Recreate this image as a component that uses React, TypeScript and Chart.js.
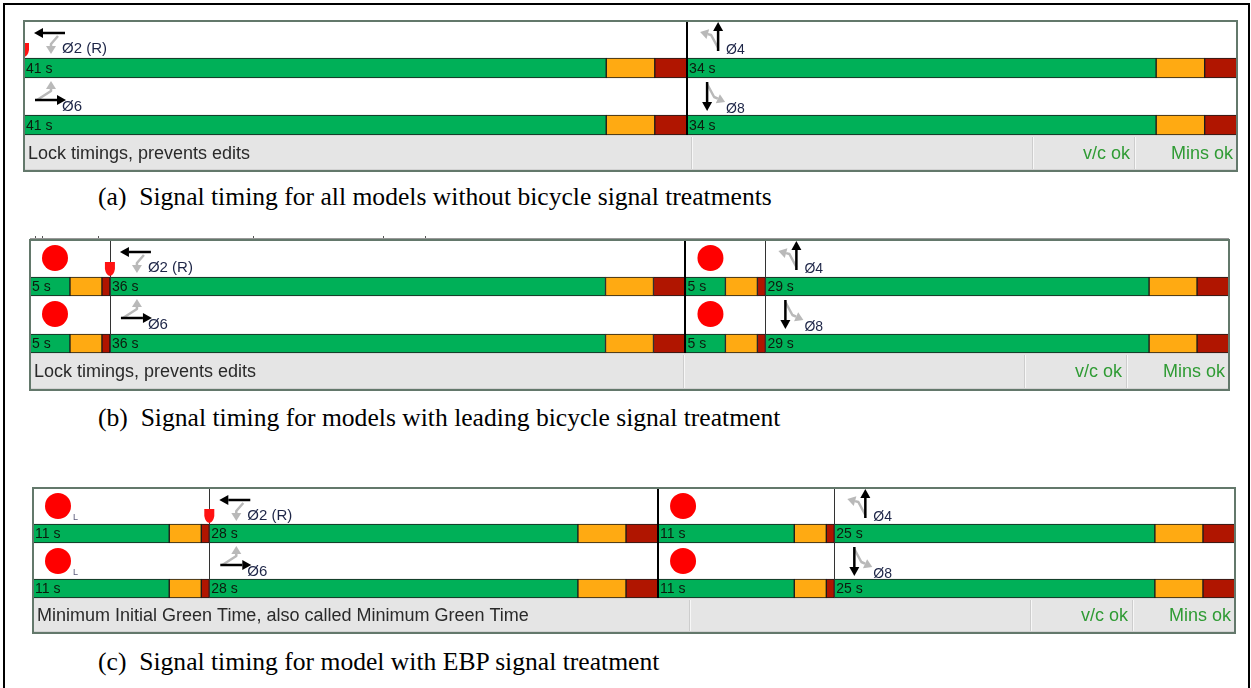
import React, { useEffect, useRef } from "react";
import { Chart, registerables } from "chart.js";

Chart.register(...registerables);

// ---------------- DATA ----------------
const CYCLE_LENGTH = 75; // seconds
const RING_ROWS = ["ring1", "ring2"];
const RING1_PHASES = ["Ø2 (R)", "Ø4"];
const RING2_PHASES = ["Ø6", "Ø8"];

// (a) without bicycle signal treatments
const A_SPLITS = [41, 34];
const A_GREEN = [36, 29];
const A_YELLOW = [3, 3];
const A_ALL_RED = [2, 2];
const A_IS_BIKE = [false, false];

// (b) leading bicycle signal treatment
const B_SPLITS = [5, 36, 5, 29];
const B_GREEN = [2.5, 31, 2.5, 24];
const B_YELLOW = [2, 3, 2, 3];
const B_ALL_RED = [0.5, 2, 0.5, 2];
const B_IS_BIKE = [true, false, true, false];

// (c) EBP signal treatment
const C_SPLITS = [11, 28, 11, 25];
const C_GREEN = [8.5, 23, 8.5, 20];
const C_YELLOW = [2, 3, 2, 3];
const C_ALL_RED = [0.5, 2, 0.5, 2];
const C_IS_BIKE = [true, false, true, false];

const STATUS_A = "Lock timings, prevents edits";
const STATUS_B = "Lock timings, prevents edits";
const STATUS_C = "Minimum Initial Green Time, also called Minimum Green Time";
const STATUS_VC = "v/c ok";
const STATUS_MINS = "Mins ok";

const CAPTION_A = "(a)";
const CAPTION_A_TEXT = "Signal timing for all models without bicycle signal treatments";
const CAPTION_B = "(b)";
const CAPTION_B_TEXT = "Signal timing for models with leading bicycle signal treatment";
const CAPTION_C = "(c)";
const CAPTION_C_TEXT = "Signal timing for model with EBP signal treatment";

// ---------------- STYLE / LAYOUT ----------------
const W = 1251;
const H = 688;
const GREEN = "#00b058";
const YELLOW = "#ffaa12";
const RED = "#b01500";
const UI_FONT = '"Liberation Sans", Arial, sans-serif';

type Layout = {
  left: number; right: number; top: number; bar1Top: number; bar2Top: number;
  barH: number; bottom: number; bikeL: boolean; remnants: boolean;
};

const LAYOUT_A: Layout = { left: 24, right: 1237, top: 21, bar1Top: 58, bar2Top: 115, barH: 20, bottom: 171, bikeL: false, remnants: false };
const LAYOUT_B: Layout = { left: 30, right: 1229, top: 240, bar1Top: 277, bar2Top: 334, barH: 19, bottom: 390, bikeL: false, remnants: true };
const LAYOUT_C: Layout = { left: 33, right: 1235, top: 488, bar1Top: 524, bar2Top: 579, barH: 19, bottom: 633, bikeL: true, remnants: false };

type PanelData = {
  splits: number[]; green: number[]; yellow: number[]; allRed: number[]; isBike: boolean[]; status: string;
};

function arrow(ctx: CanvasRenderingContext2D, pts: number[][], color: string, lw: number, headLen: number, headHalf: number) {
  const n = pts.length;
  const [px, py] = pts[n - 2];
  const [tx, ty] = pts[n - 1];
  const ang = Math.atan2(ty - py, tx - px);
  const bx = tx - Math.cos(ang) * headLen;
  const by = ty - Math.sin(ang) * headLen;
  ctx.save();
  ctx.strokeStyle = color;
  ctx.fillStyle = color;
  ctx.lineWidth = lw;
  ctx.lineJoin = "round";
  ctx.beginPath();
  ctx.moveTo(pts[0][0], pts[0][1]);
  for (let i = 1; i < n - 1; i++) ctx.lineTo(pts[i][0], pts[i][1]);
  ctx.lineTo(bx, by);
  ctx.stroke();
  const nx = -Math.sin(ang) * headHalf;
  const ny = Math.cos(ang) * headHalf;
  ctx.beginPath();
  ctx.moveTo(tx, ty);
  ctx.lineTo(bx + nx, by + ny);
  ctx.lineTo(bx - nx, by - ny);
  ctx.closePath();
  ctx.fill();
  ctx.restore();
}

const GRAY_ARROW = "#b9b9b9";

function drawPhaseIcon(ctx: CanvasRenderingContext2D, name: string, ox: number, oy: number) {
  ctx.save();
  ctx.fillStyle = "#1d2547";
  ctx.textBaseline = "middle";
  ctx.textAlign = "left";
  if (name === "Ø2 (R)") {
    arrow(ctx, [[ox + 34, oy + 15], [ox + 27, oy + 23], [ox + 27, oy + 33]], GRAY_ARROW, 2.5, 8, 5);
    arrow(ctx, [[ox + 41, oy + 12], [ox + 10, oy + 12]], "#000", 2.5, 9, 5);
    ctx.font = "15px " + UI_FONT;
    ctx.fillText(name, ox + 38, oy + 28);
  } else if (name === "Ø6") {
    arrow(ctx, [[ox + 13, oy + 22], [ox + 27, oy + 13], [ox + 27, oy + 3]], GRAY_ARROW, 2.5, 8, 5);
    arrow(ctx, [[ox + 11, oy + 22], [ox + 42, oy + 22]], "#000", 2.5, 9, 5);
    ctx.font = "15px " + UI_FONT;
    ctx.fillText(name, ox + 38, oy + 29);
  } else if (name === "Ø4") {
    arrow(ctx, [[ox + 31, oy + 27], [ox + 24, oy + 14], [ox + 13, oy + 11]], GRAY_ARROW, 2.5, 8, 5);
    arrow(ctx, [[ox + 31, oy + 30], [ox + 31, oy + 1]], "#000", 2.5, 9, 5);
    ctx.font = "14px " + UI_FONT;
    ctx.fillText(name, ox + 39, oy + 29);
  } else if (name === "Ø8") {
    arrow(ctx, [[ox + 20, oy + 6], [ox + 27, oy + 19], [ox + 38, oy + 24]], GRAY_ARROW, 2.5, 8, 5);
    arrow(ctx, [[ox + 20, oy + 4], [ox + 20, oy + 33]], "#000", 2.5, 9, 5);
    ctx.font = "14px " + UI_FONT;
    ctx.fillText(name, ox + 39, oy + 31);
  }
  ctx.restore();
}

function phaseStarts(splits: number[]) {
  const s: number[] = [];
  let acc = 0;
  for (const v of splits) { s.push(acc); acc += v; }
  return s;
}

function buildDatasets(d: PanelData, barH: number) {
  const starts = phaseStarts(d.splits);
  const g: any[] = [], y: any[] = [], r: any[] = [];
  RING_ROWS.forEach((row) => {
    d.splits.forEach((split, i) => {
      const s = starts[i];
      g.push({ x: [s, s + d.green[i]], y: row });
      y.push({ x: [s + d.green[i], s + d.green[i] + d.yellow[i]], y: row });
      r.push({ x: [s + d.green[i] + d.yellow[i], s + split], y: row });
    });
  });
  const common = { stack: "ring", clip: false as const, barThickness: barH, borderWidth: 1, borderColor: "#1b1b1b", borderSkipped: false as const };
  return [
    { label: "Green", data: g, backgroundColor: GREEN, ...common },
    { label: "Yellow", data: y, backgroundColor: YELLOW, ...common },
    { label: "All red", data: r, backgroundColor: RED, ...common },
  ];
}

function PanelChart({ layout, data }: { layout: Layout; data: PanelData }) {
  const ref = useRef<HTMLCanvasElement | null>(null);
  const canvasTop = layout.top - 14;
  const canvasH = layout.bottom - layout.top + 22;

  useEffect(() => {
    if (!ref.current) return;
    const L = layout;
    const bar1C = L.bar1Top + L.barH / 2 - canvasTop;
    const bar2C = L.bar2Top + L.barH / 2 - canvasTop;
    const starts = phaseStarts(data.splits);
    const vehicleIdx = data.isBike.map((b, i) => (b ? -1 : i)).filter((i) => i >= 0);

    const chrome = {
      id: "chrome",
      beforeDatasetsDraw(chart: any) {
        const ctx = chart.ctx as CanvasRenderingContext2D;
        ctx.save();
        ctx.translate(0, -canvasTop);
        const bar2Bottom = L.bar2Top + L.barH;
        ctx.fillStyle = "#ffffff";
        ctx.fillRect(L.left, L.top, L.right - L.left, bar2Bottom - L.top);
        // status bar
        ctx.fillStyle = "#e5e5e5";
        ctx.fillRect(L.left, bar2Bottom, L.right - L.left, L.bottom - bar2Bottom);
        const seps = [L.right - 546, L.right - 205, L.right - 103];
        seps.forEach((sx) => {
          ctx.fillStyle = "#cdcdcd";
          ctx.fillRect(sx, bar2Bottom + 2, 1, L.bottom - bar2Bottom - 3);
          ctx.fillStyle = "#f7f7f7";
          ctx.fillRect(sx + 1, bar2Bottom + 2, 1, L.bottom - bar2Bottom - 3);
        });
        ctx.fillStyle = "#d2d2d2";
        ctx.fillRect(L.left, L.bottom - 2, L.right - L.left, 1);
        const midY = (bar2Bottom + L.bottom) / 2 + 1;
        ctx.font = "18px " + UI_FONT;
        ctx.textBaseline = "middle";
        ctx.fillStyle = "#2a2a2a";
        ctx.textAlign = "left";
        ctx.fillText(data.status, L.left + 4, midY);
        ctx.fillStyle = "#2f9b34";
        ctx.textAlign = "right";
        ctx.fillText(STATUS_VC, seps[2] - 4, midY);
        ctx.fillText(STATUS_MINS, L.right - 4, midY);
        // remnants of a cropped window above panel (b)
        if (L.remnants) {
          ctx.fillStyle = "#555";
          [35, 42, 98, 253, 383, 425].forEach((tx) => ctx.fillRect(tx, L.top - 4, 1, 3));
          ctx.fillStyle = "#999";
          ctx.fillRect(L.left, L.top - 2, L.right - L.left, 1);
        }
        ctx.restore();
      },
      afterDatasetsDraw(chart: any) {
        const ctx = chart.ctx as CanvasRenderingContext2D;
        const xs = chart.scales.x;
        const ys = chart.scales.y;
        ctx.save();
        ctx.translate(0, -canvasTop);
        const bar2Bottom = L.bar2Top + L.barH;
        ctx.save();
        ctx.beginPath();
        ctx.rect(L.left, L.top, L.right - L.left, L.bottom - L.top);
        ctx.clip();
        // bar labels (split times)
        ctx.font = "14px " + UI_FONT;
        ctx.textBaseline = "middle";
        ctx.textAlign = "left";
        ctx.fillStyle = "#0d1a0d";
        RING_ROWS.forEach((_, ri) => {
          const yy = ys.getPixelForValue(ri) + canvasTop + 1;
          data.splits.forEach((split, i) => {
            ctx.fillText(split + " s", xs.getPixelForValue(starts[i]) + 2, yy);
          });
        });
        // vertical dividers between phases
        starts.forEach((s, i) => {
          if (i === 0) return;
          const px = Math.round(xs.getPixelForValue(s));
          const barrier = data.isBike[i] || (!data.isBike[i] && !data.isBike[i - 1]);
          ctx.fillStyle = barrier ? "#000" : "#333";
          const w = barrier ? 2 : 1;
          ctx.fillRect(px - (barrier ? 1 : 0), L.top, w, bar2Bottom - L.top);
        });
        // bike phase red dots
        const rowTops = [L.top, L.bar1Top + L.barH];
        data.isBike.forEach((b, i) => {
          if (!b) return;
          const ox = xs.getPixelForValue(starts[i]);
          rowTops.forEach((rt) => {
            ctx.fillStyle = "#ff0000";
            ctx.beginPath();
            ctx.arc(ox + 25, rt + 18, 13, 0, Math.PI * 2);
            ctx.fill();
            if (L.bikeL && i === 0) {
              ctx.fillStyle = "#5a5a7a";
              ctx.font = "9px " + UI_FONT;
              ctx.fillText("L", ox + 40, rt + 30);
            }
          });
        });
        // phase icons + labels
        vehicleIdx.forEach((pi, k) => {
          const ox = xs.getPixelForValue(starts[pi]);
          drawPhaseIcon(ctx, RING1_PHASES[k], ox, rowTops[0]);
          drawPhaseIcon(ctx, RING2_PHASES[k], ox, rowTops[1]);
        });
        // reference phase marker (start of Ø2)
        const rx = xs.getPixelForValue(starts[vehicleIdx[0]]);
        const ry = L.bar1Top;
        ctx.fillStyle = "#ff1212";
        ctx.beginPath();
        ctx.moveTo(rx - 5, ry - 15);
        ctx.lineTo(rx + 5, ry - 15);
        ctx.lineTo(rx + 5, ry - 8);
        ctx.quadraticCurveTo(rx + 4, ry - 2, rx, ry - 1);
        ctx.quadraticCurveTo(rx - 4, ry - 2, rx - 5, ry - 8);
        ctx.closePath();
        ctx.fill();
        ctx.restore();
        // panel border
        ctx.strokeStyle = "#63786b";
        ctx.lineWidth = 2;
        ctx.strokeRect(L.left, L.top, L.right - L.left, L.bottom - L.top);
        ctx.restore();
      },
    };

    const chart = new Chart(ref.current, {
      type: "bar",
      data: { labels: RING_ROWS, datasets: buildDatasets(data, L.barH) as any },
      options: {
        animation: false,
        responsive: false,
        maintainAspectRatio: false,
        indexAxis: "y",
        events: [],
        layout: { padding: { left: L.left, right: W - L.right, top: bar1C, bottom: canvasH - bar2C } },
        scales: {
          x: { type: "linear", min: 0, max: CYCLE_LENGTH, display: false, stacked: false },
          y: { type: "category", offset: false, display: false, stacked: true },
        },
        plugins: { legend: { display: false }, tooltip: { enabled: false } },
      },
      plugins: [chrome],
    });
    return () => chart.destroy();
  }, []);

  return (
    <canvas
      ref={ref}
      width={W}
      height={canvasH}
      style={{ position: "absolute", left: 0, top: canvasTop, width: W, height: canvasH }}
    />
  );
}

const captionStyle = (top: number): React.CSSProperties => ({
  position: "absolute",
  left: 98,
  top,
  fontFamily: '"Liberation Serif", "Times New Roman", serif',
  fontSize: 25.6,
  lineHeight: "30px",
  color: "#000",
  whiteSpace: "pre",
});

export default function App() {
  useEffect(() => {
    document.body.style.margin = "0";
  }, []);
  return (
    <div style={{ position: "relative", width: W, height: H, overflow: "hidden", background: "#fff" }}>
      <div style={{ position: "absolute", left: 3, top: 3, width: 1243, height: 720, border: "2px solid #000" }} />
      <PanelChart layout={LAYOUT_A} data={{ splits: A_SPLITS, green: A_GREEN, yellow: A_YELLOW, allRed: A_ALL_RED, isBike: A_IS_BIKE, status: STATUS_A }} />
      <PanelChart layout={LAYOUT_B} data={{ splits: B_SPLITS, green: B_GREEN, yellow: B_YELLOW, allRed: B_ALL_RED, isBike: B_IS_BIKE, status: STATUS_B }} />
      <PanelChart layout={LAYOUT_C} data={{ splits: C_SPLITS, green: C_GREEN, yellow: C_YELLOW, allRed: C_ALL_RED, isBike: C_IS_BIKE, status: STATUS_C }} />
      <div style={captionStyle(182)}>{CAPTION_A + "  " + CAPTION_A_TEXT}</div>
      <div style={captionStyle(403)}>{CAPTION_B + "  " + CAPTION_B_TEXT}</div>
      <div style={captionStyle(647)}>{CAPTION_C + "  " + CAPTION_C_TEXT}</div>
    </div>
  );
}
